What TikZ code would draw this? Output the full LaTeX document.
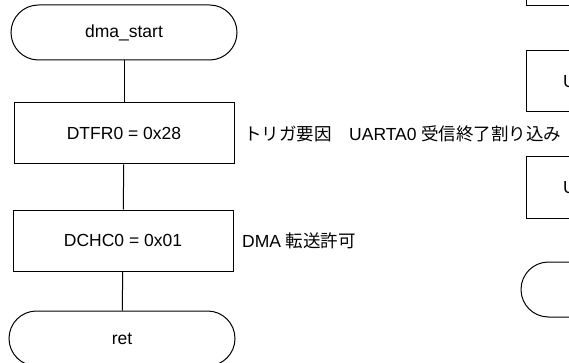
\documentclass[tikz,border=0pt]{standalone}
\usepackage{fontspec}
\setmainfont{Liberation Sans}
\newfontfamily\cjk{Noto Sans CJK JP}
\begin{document}
\begin{tikzpicture}[x=1pt,y=-1pt,
  every node/.style={font=\fontsize{17.5}{21}\selectfont},
  term/.style={draw=black,line width=1pt,rounded corners=27.5pt,minimum width=226pt,minimum height=55pt,inner sep=0pt},
  procbox/.style={draw=black,line width=1pt,minimum width=220pt,minimum height=61pt,inner sep=0pt},
  conn/.style={draw=black,line width=1pt},
  note/.style={anchor=west,inner sep=0pt}]
\useasboundingbox (0,0) rectangle (569,363);
\clip (0,0) rectangle (569,363);
% left flowchart
\node[term] (start) at (124,32.5) {dma\_start};
\node[procbox] (dtfr) at (124,133.5) {DTFR0 = 0x28};
\node[procbox] (dchc) at (123,240.5) {DCHC0 = 0x01};
\node[term] (ret) at (122,338.5) {ret};
\draw[conn] (start) -- (dtfr);
\draw[conn] (dtfr) -- (dchc);
\draw[conn] (dchc) -- (ret);
\node[note] (lab1) at (244,133.5) {{\cjk トリガ要因　}UARTA0 {\cjk 受信終了割り込み}};
\node[note] (lab2) at (242,240.5) {DMA {\cjk 転送許可}};
% right partial flowchart
\node[procbox] (rbox0) at (636,-24.5) {};
\node[procbox] (rbox1) at (636,81.5) {};
\node[procbox] (rbox2) at (636,187.5) {};
\node[term] (rterm) at (634,289.5) {};
\node[note] (ru1) at (563,81.5) {U};
\node[note] (ru2) at (563,187.5) {U};
\end{tikzpicture}
\end{document}
